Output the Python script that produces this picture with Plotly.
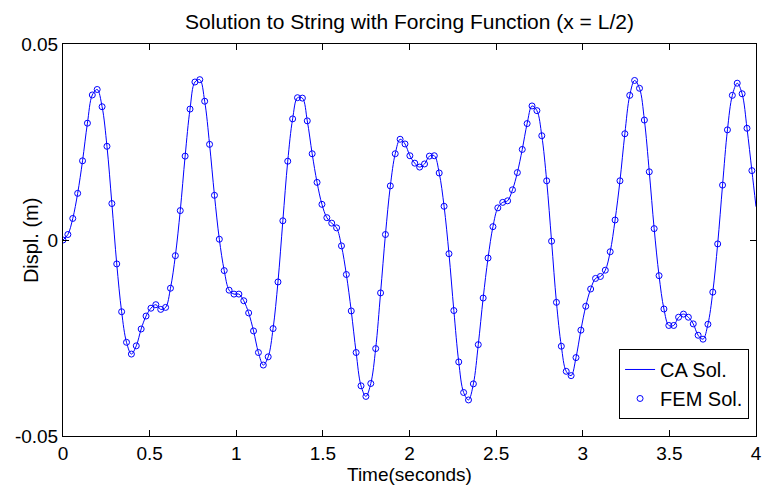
import numpy as np
import plotly.graph_objects as go

# FEM sampling: uniform time step (s)
dt = 0.0282
fem_disp = [
    0.0000, 0.0014, 0.0055, 0.0119, 0.0202, 0.0298, 0.0370, 0.0384, 0.0340, 0.0239,
    0.0093, -0.0061, -0.0183, -0.0261, -0.0291, -0.0270, -0.0227, -0.0194, -0.0174, -0.0165,
    -0.0177, -0.0172, -0.0123, -0.0040, 0.0075, 0.0214, 0.0334, 0.0403, 0.0409, 0.0354,
    0.0244, 0.0114, 0.0002, -0.0078, -0.0128, -0.0138, -0.0138, -0.0155, -0.0186, -0.0232,
    -0.0287, -0.0319, -0.0298, -0.0226, -0.0107, 0.0049, 0.0201, 0.0309, 0.0363, 0.0362,
    0.0304, 0.0220, 0.0147, 0.0091, 0.0057, 0.0043, 0.0031, -0.0015, -0.0088, -0.0181,
    -0.0287, -0.0372, -0.0399, -0.0366, -0.0277, -0.0135, 0.0014, 0.0138, 0.0220, 0.0257,
    0.0245, 0.0215, 0.0196, 0.0186, 0.0194, 0.0214, 0.0215, 0.0171, 0.0086, -0.0035,
    -0.0180, -0.0311, -0.0389, -0.0408, -0.0367, -0.0267, -0.0148, -0.0046, 0.0034, 0.0082,
    0.0096, 0.0100, 0.0128, 0.0172, 0.0231, 0.0297, 0.0342, 0.0330, 0.0266, 0.0151,
    -0.0003, -0.0159, -0.0271, -0.0335, -0.0346, -0.0300, -0.0230, -0.0169, -0.0125, -0.0098,
    -0.0093, -0.0077, -0.0030, 0.0051, 0.0151, 0.0271, 0.0369, 0.0407, 0.0387, 0.0306,
    0.0174, 0.0029, -0.0091, -0.0176, -0.0218, -0.0218, -0.0197, -0.0189, -0.0197, -0.0214,
    -0.0243, -0.0253, -0.0215, -0.0133, -0.0010, 0.0140, 0.0281, 0.0369, 0.0400, 0.0373,
    0.0285, 0.0177,
]
fem_time = list(np.arange(len(fem_disp)) * dt)

# CA solution runs over the same samples and on to the end of the window
ca_time = fem_time + [4.0]
ca_disp = fem_disp + [0.0085]

x_ticks = [0, 0.5, 1, 1.5, 2, 2.5, 3, 3.5, 4]
x_tick_labels = ["0", "0.5", "1", "1.5", "2", "2.5", "3", "3.5", "4"]
y_ticks = [-0.05, 0, 0.05]
y_tick_labels = ["-0.05", "0", "0.05"]

FONT = "Liberation Sans, Arial, sans-serif"
BLUE = "rgb(0,0,255)"

fig = go.Figure()
fig.add_trace(go.Scatter(
    x=ca_time, y=ca_disp, mode="lines", name="CA Sol.",
    line=dict(color=BLUE, width=1, shape="spline", smoothing=1.0),
))
fig.add_trace(go.Scatter(
    x=fem_time, y=fem_disp, mode="markers", name="FEM Sol.",
    marker=dict(symbol="circle-open", size=6, color=BLUE, line=dict(width=1, color=BLUE)),
))

axis_common = dict(
    showline=True, linecolor="black", linewidth=1, mirror="ticks",
    ticks="inside", ticklen=6, tickwidth=1, tickcolor="black",
    showgrid=False, zeroline=False, automargin=False,
    tickfont=dict(family=FONT, size=19, color="black"),
)

fig.update_layout(
    width=762, height=487,
    margin=dict(l=63, r=6, t=44, b=51),
    paper_bgcolor="white", plot_bgcolor="white",
    font=dict(family=FONT, size=20, color="black"),
    title=dict(
        text="Solution to String with Forcing Function (x = L/2)",
        font=dict(family=FONT, size=21, color="black"),
        x=0.5, xanchor="center", xref="paper",
        y=1 - 22 / 487, yanchor="middle", yref="container",
    ),
    xaxis=dict(range=[0, 4], tickvals=x_ticks, ticktext=x_tick_labels, **axis_common),
    yaxis=dict(range=[-0.05, 0.05], tickvals=y_ticks, ticktext=y_tick_labels, **axis_common),
    legend=dict(
        x=0.99, xanchor="right", y=0.222, yanchor="top",
        bgcolor="white", bordercolor="black", borderwidth=1,
        font=dict(family=FONT, size=20, color="black"),
        tracegroupgap=0,
    ),
    showlegend=True,
    annotations=[
        dict(text="Time(seconds)", xref="paper", yref="paper", x=0.5, y=-0.099,
             xanchor="center", yanchor="middle", showarrow=False,
             font=dict(family=FONT, size=19, color="black")),
        dict(text="Displ. (m)", xref="paper", yref="paper", x=-0.046, y=0.5,
             xanchor="center", yanchor="middle", textangle=-90, showarrow=False,
             font=dict(family=FONT, size=20, color="black")),
    ],
)

fig.write_html("out.html")
